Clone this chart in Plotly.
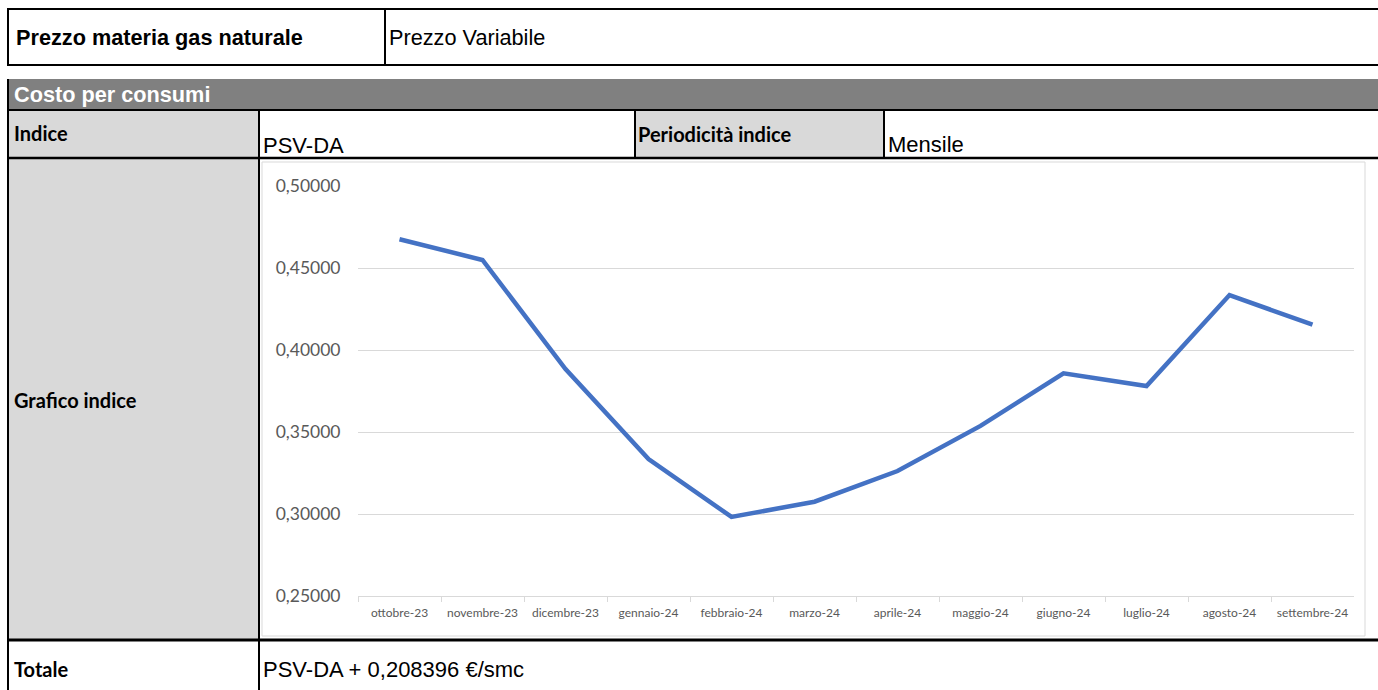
import plotly.graph_objects as go

# ---- data ----
months = ["ottobre-23", "novembre-23", "dicembre-23", "gennaio-24", "febbraio-24", "marzo-24",
          "aprile-24", "maggio-24", "giugno-24", "luglio-24", "agosto-24", "settembre-24"]
psv_da = [0.4675, 0.4549, 0.3884, 0.3335, 0.2982, 0.3075,
          0.3262, 0.3537, 0.3858, 0.3780, 0.4335, 0.4154]
y_ticks = [0.25, 0.30, 0.35, 0.40, 0.45, 0.50]

title_left = "Prezzo materia gas naturale"
title_right = "Prezzo Variabile"
section = "Costo per consumi"
lbl_indice = "Indice"
val_indice = "PSV-DA"
lbl_period = "Periodicità indice"
val_period = "Mensile"
lbl_chart = "Grafico indice"
lbl_tot = "Totale"
val_tot = "PSV-DA + 0,208396 €/smc"

W, H = 1378, 690


def px(x):
    return x / W


def py(y):
    return 1 - y / H


fig = go.Figure()
fig.add_trace(go.Scatter(
    x=months, y=psv_da, mode="lines",
    line=dict(color="#4472C4", width=4.5),
    hoverinfo="skip", showlegend=False,
))

shapes = []


def rect(x0, y0, x1, y1, fill=None, line_color=None, lw=0):
    shapes.append(dict(type="rect", xref="paper", yref="paper",
                       x0=px(x0), x1=px(x1), y0=py(y1), y1=py(y0),
                       fillcolor=fill if fill else "rgba(0,0,0,0)",
                       line=dict(color=line_color if line_color else "rgba(0,0,0,0)", width=lw),
                       layer="below"))


def hline(y, x0, x1, lw=2, color="black"):
    shapes.append(dict(type="line", xref="paper", yref="paper",
                       x0=px(x0), x1=px(x1), y0=py(y), y1=py(y),
                       line=dict(color=color, width=lw), layer="below"))


def vline(x, y0, y1, lw=2, color="black"):
    shapes.append(dict(type="line", xref="paper", yref="paper",
                       x0=px(x), x1=px(x), y0=py(y0), y1=py(y1),
                       line=dict(color=color, width=lw), layer="below"))


# fills
rect(8, 79, 1400, 109, fill="#808080")
rect(8, 110, 259, 158, fill="#D9D9D9")
rect(635, 110, 884, 158, fill="#D9D9D9")
rect(8, 158, 259, 640, fill="#D9D9D9")
# chart box
rect(262, 162, 1365, 636, fill="white", line_color="#D9D9D9", lw=1)

# row 1 borders
hline(9, 7, 1400)
hline(65, 7, 1400)
vline(8, 9, 65)
vline(385, 9, 65)
# table borders
hline(110, 7, 1400)
hline(158, 7, 1400, lw=2.5)
hline(640, 7, 1400, lw=3)
vline(8, 79, 700)
vline(259, 110, 700)
vline(635, 110, 158)
vline(884, 110, 158)

ARIAL = "Liberation Sans, Arial, sans-serif"
CALIBRI = "Lato, sans-serif"

ann = []


def text(x, y, s, font, size, color="black", bold=False):
    ann.append(dict(x=px(x), y=py(y), xref="paper", yref="paper",
                    text=f"<b>{s}</b>" if bold else s, showarrow=False,
                    xanchor="left", yanchor="middle",
                    font=dict(family=font, size=size, color=color)))


text(14, 38, title_left, ARIAL, 21.7, bold=True)
text(387, 38, title_right, ARIAL, 21.7)
text(12, 95, section, ARIAL, 21.7, color="white", bold=True)
text(12, 133, lbl_indice, CALIBRI, 20, bold=True)
text(261, 146, val_indice, ARIAL, 22)
text(636, 134, lbl_period, CALIBRI, 20, bold=True)
text(886, 144, val_period, ARIAL, 22)
text(12, 400, lbl_chart, CALIBRI, 20, bold=True)
text(12, 669, lbl_tot, CALIBRI, 20, bold=True)
text(261, 669, val_tot, ARIAL, 22)

fig.update_layout(
    width=W, height=H,
    margin=dict(l=0, r=0, t=0, b=0, pad=0, autoexpand=False),
    paper_bgcolor="white",
    plot_bgcolor="rgba(0,0,0,0)",
    separators=",.",
    shapes=shapes,
    annotations=ann,
    xaxis=dict(
        type="category", domain=[px(358), px(1354)], range=[-0.5, 11.5],
        showgrid=False, showline=True, linecolor="#D9D9D9", linewidth=1,
        ticks="outside", tickson="boundaries", ticklen=5, tickcolor="#D9D9D9",
        ticklabelstandoff=6,
        tickfont=dict(family=CALIBRI, size=12, color="#595959"),
        tickangle=0, fixedrange=True,
    ),
    yaxis=dict(
        domain=[py(596), py(186)], range=[0.25, 0.50],
        tickvals=y_ticks, tickformat=".5f",
        showgrid=True, gridcolor="#D9D9D9", gridwidth=1,
        zeroline=False, showline=False,
        ticks="outside", ticklen=13, tickcolor="rgba(0,0,0,0)",
        tickfont=dict(family=CALIBRI, size=17.5, color="#595959"),
        fixedrange=True,
    ),
)

fig.write_html(
    "out.html",
    config={"displayModeBar": False, "responsive": False},
    post_script="document.body.style.margin='0';document.body.style.overflow='hidden';",
)
